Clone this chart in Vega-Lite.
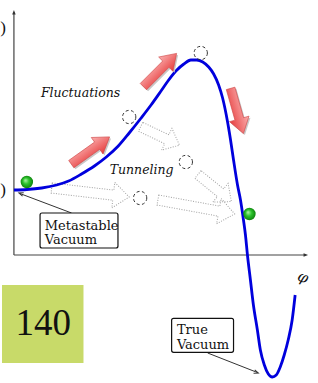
{
  "$schema": "https://vega.github.io/schema/vega-lite/v6.json",
  "width": 318,
  "height": 383,
  "padding": 0,
  "autosize": {"type": "fit", "contains": "padding"},
  "background": "white",
  "config": {"view": {"stroke": null}},
  "datasets": {
    "curve": [
      {"x": 0, "y": 65}, {"x": 13, "y": 65.5}, {"x": 28, "y": 67}, {"x": 43, "y": 70}, {"x": 55, "y": 74},
      {"x": 68, "y": 81}, {"x": 81, "y": 89}, {"x": 93, "y": 98}, {"x": 105, "y": 109}, {"x": 116, "y": 122},
      {"x": 128, "y": 137}, {"x": 138, "y": 150}, {"x": 148, "y": 164}, {"x": 155, "y": 174}, {"x": 163, "y": 184},
      {"x": 171, "y": 191}, {"x": 178, "y": 195}, {"x": 184, "y": 195}, {"x": 190, "y": 193}, {"x": 196, "y": 188},
      {"x": 201, "y": 181}, {"x": 206, "y": 170}, {"x": 210, "y": 157}, {"x": 215, "y": 133}, {"x": 218, "y": 115},
      {"x": 221, "y": 95}, {"x": 225, "y": 70}, {"x": 228, "y": 55}, {"x": 231, "y": 35}, {"x": 233, "y": 20},
      {"x": 235, "y": 0}, {"x": 238, "y": -25}, {"x": 241, "y": -50}, {"x": 245, "y": -75}, {"x": 248, "y": -95},
      {"x": 252, "y": -110}, {"x": 256, "y": -119}, {"x": 260, "y": -122}, {"x": 264, "y": -120}, {"x": 268, "y": -112},
      {"x": 272, "y": -100}, {"x": 276, "y": -85}, {"x": 280, "y": -65}, {"x": 283, "y": -40}
    ],
    "pagebox": [{"x": -12, "x2": 70, "y": -30, "y2": -108}],
    "pagenum": [{"x": 29.5, "y": -80, "label": "140"}],
    "axes": [{"x": 0, "y": 0, "x2": 0, "y2": 243}, {"x": 0, "y": 0, "x2": 294, "y2": 0}],
    "axisheads": [{"x": 0, "y": 245, "dir": 0}, {"x": 296, "y": 0, "dir": 90}],
    "cutlabels": [{"x": -8, "y": 227, "label": ")"}, {"x": -8, "y": 65, "label": ")"}],
    "philabel": [{"x": 291, "y": -22, "label": "φ"}],
    "dottedlong": [{"x": 77, "y": 62.5, "dir": 96.6}, {"x": 183.5, "y": 48, "dir": 100.3}],
    "dottedshort": [{"x": 147, "y": 119, "dir": 115.3}, {"x": 202, "y": 67, "dir": 129}],
    "ghosts": [{"x": 188, "y": 202}, {"x": 116, "y": 138}, {"x": 173, "y": 93}, {"x": 127, "y": 57}],
    "redarrows": [{"x": 77, "y": 104.5, "dir": 54.6}, {"x": 147, "y": 185, "dir": 45}, {"x": 224.5, "y": 144, "dir": 164.2}],
    "balls": [{"x": 13, "y": 73}, {"x": 237, "y": 41}],
    "italics": [{"x": 67, "y": 158, "label": "Fluctuations"}, {"x": 128.5, "y": 81, "label": "Tunneling"}],
    "boxes": [{"x": 26.3, "x2": 104.7, "y": 42, "y2": 7}, {"x": 158.7, "x2": 221, "y": -63.3, "y2": -97.3}],
    "boxlabels": [
      {"x": 31, "y": 25.3, "label": ["Metastable", "Vacuum"]},
      {"x": 164, "y": -79.3, "label": ["True", "Vacuum"]}
    ],
    "pointers": [{"x": 58, "y": 42, "x2": 6, "y2": 61.5}, {"x": 195, "y": -98, "x2": 245, "y2": -117.5}],
    "pointerheads": [{"x": 5, "y": 62, "dir": 289.7}, {"x": 246, "y": -118, "dir": 109.4}]
  },
  "encoding": {
    "x": {"field": "x", "type": "quantitative", "axis": null, "scale": {"domain": [-12, 306], "nice": false, "zero": false}},
    "y": {"field": "y", "type": "quantitative", "axis": null, "scale": {"domain": [-128, 255], "nice": false, "zero": false}}
  },
  "layer": [
    {
      "data": {"name": "pagebox"},
      "mark": {"type": "rect", "fill": "#c8da69"},
      "encoding": {"x2": {"field": "x2"}, "y2": {"field": "y2"}}
    },
    {
      "data": {"name": "pagenum"},
      "mark": {"type": "text", "font": "Liberation Serif", "fontSize": 37, "align": "center", "baseline": "alphabetic", "color": "#111"},
      "encoding": {"text": {"field": "label"}}
    },
    {
      "data": {"name": "axes"},
      "mark": {"type": "rule", "stroke": "#444", "strokeWidth": 1.2},
      "encoding": {"x2": {"field": "x2"}, "y2": {"field": "y2"}}
    },
    {
      "data": {"name": "axisheads"},
      "mark": {"type": "point", "shape": "M0,0L0.7,1.8L-0.7,1.8Z", "filled": true, "fill": "#333", "size": 25, "opacity": 1, "strokeWidth": 0},
      "encoding": {"angle": {"field": "dir", "type": "quantitative", "scale": null}}
    },
    {
      "data": {"name": "cutlabels"},
      "mark": {"type": "text", "font": "Liberation Serif", "fontSize": 17, "align": "right", "baseline": "middle", "color": "#111"},
      "encoding": {"text": {"field": "label"}}
    },
    {
      "data": {"name": "philabel"},
      "mark": {"type": "text", "font": "DejaVu Serif", "fontStyle": "italic", "fontSize": 15, "align": "center", "baseline": "middle", "color": "#111", "angle": 20},
      "encoding": {"text": {"field": "label"}}
    },
    {
      "data": {"name": "dottedlong"},
      "mark": {"type": "point", "shape": "M-0.13,1L0.13,1L0.13,-0.59L0.33,-0.59L0,-1L-0.33,-0.59L-0.13,-0.59Z", "filled": false, "stroke": "#a0a0a0", "strokeWidth": 1, "strokeDash": [1, 1.5], "size": 6084, "opacity": 1},
      "encoding": {"angle": {"field": "dir", "type": "quantitative", "scale": null}}
    },
    {
      "data": {"name": "dottedshort"},
      "mark": {"type": "point", "shape": "M-0.23,1L0.23,1L0.23,-0.35L0.56,-0.35L0,-1L-0.56,-0.35L-0.23,-0.35Z", "filled": false, "stroke": "#a0a0a0", "strokeWidth": 1, "strokeDash": [1, 1.5], "size": 1849, "opacity": 1},
      "encoding": {"angle": {"field": "dir", "type": "quantitative", "scale": null}}
    },
    {
      "data": {"name": "curve"},
      "mark": {"type": "line", "stroke": "#0000dd", "strokeWidth": 2.8, "interpolate": "monotone"}
    },
    {
      "data": {"name": "ghosts"},
      "mark": {"type": "point", "shape": "circle", "filled": false, "stroke": "#333", "strokeWidth": 1, "strokeDash": [3, 2.5], "size": 177, "opacity": 1}
    },
    {
      "data": {"name": "redarrows"},
      "mark": {"type": "point", "shape": "M-0.19,1L0.19,1L0.19,-0.35L0.43,-0.35L0,-1L-0.43,-0.35L-0.19,-0.35Z", "filled": true, "size": 2209, "opacity": 1, "xOffset": 1.5, "yOffset": 1.5, "fill": "#c8c8c8", "strokeWidth": 0},
      "encoding": {"angle": {"field": "dir", "type": "quantitative", "scale": null}}
    },
    {
      "data": {"name": "redarrows"},
      "mark": {"type": "point", "shape": "M-0.19,1L0.19,1L0.19,-0.35L0.43,-0.35L0,-1L-0.43,-0.35L-0.19,-0.35Z", "filled": true, "size": 2209, "opacity": 1,
        "fill": {"gradient": "linear", "x1": 0, "y1": 0, "x2": 1, "y2": 0, "stops": [{"offset": 0, "color": "#fbb0b0"}, {"offset": 1, "color": "#e63c3c"}]},
        "stroke": "#d04848", "strokeWidth": 0.6},
      "encoding": {"angle": {"field": "dir", "type": "quantitative", "scale": null}}
    },
    {
      "data": {"name": "balls"},
      "mark": {"type": "point", "shape": "circle", "filled": true, "size": 154, "opacity": 1,
        "fill": {"gradient": "radial", "x1": 0.38, "y1": 0.35, "r1": 0, "x2": 0.5, "y2": 0.5, "r2": 0.55, "stops": [{"offset": 0, "color": "#b8f5b0"}, {"offset": 0.45, "color": "#2cc42c"}, {"offset": 1, "color": "#0a7a0a"}]},
        "strokeWidth": 0}
    },
    {
      "data": {"name": "italics"},
      "mark": {"type": "text", "font": "DejaVu Serif", "fontStyle": "italic", "fontSize": 12.5, "align": "center", "baseline": "alphabetic", "color": "#111"},
      "encoding": {"text": {"field": "label"}}
    },
    {
      "data": {"name": "pointers"},
      "mark": {"type": "rule", "stroke": "#333", "strokeWidth": 1},
      "encoding": {"x2": {"field": "x2"}, "y2": {"field": "y2"}}
    },
    {
      "data": {"name": "pointerheads"},
      "mark": {"type": "point", "shape": "M-0.7,1.8L0,0L0.7,1.8", "filled": false, "stroke": "#333", "strokeWidth": 1, "size": 25, "opacity": 1},
      "encoding": {"angle": {"field": "dir", "type": "quantitative", "scale": null}}
    },
    {
      "data": {"name": "boxes"},
      "mark": {"type": "rect", "fill": "white", "stroke": "#111", "strokeWidth": 1.2, "cornerRadius": 2},
      "encoding": {"x2": {"field": "x2"}, "y2": {"field": "y2"}}
    },
    {
      "data": {"name": "boxlabels"},
      "mark": {"type": "text", "font": "DejaVu Serif", "fontSize": 13, "lineHeight": 14.5, "align": "left", "baseline": "alphabetic", "color": "#111"},
      "encoding": {"text": {"field": "label"}}
    }
  ]
}
